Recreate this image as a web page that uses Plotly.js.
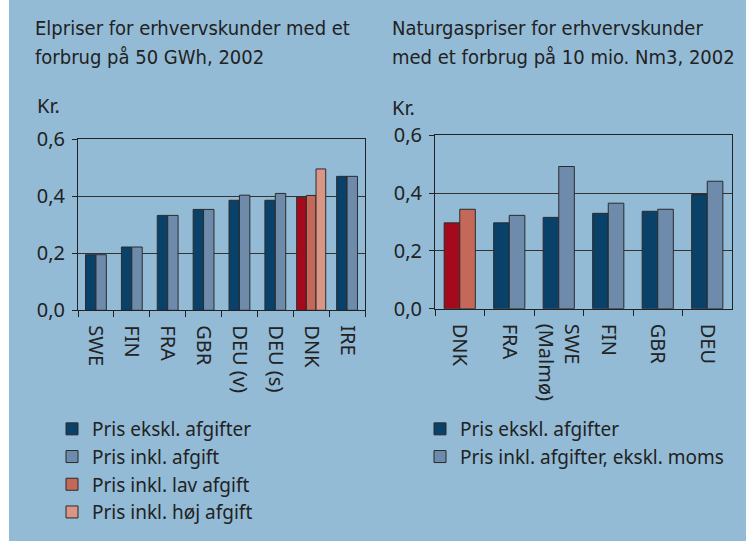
<!DOCTYPE html>
<html><head><meta charset="utf-8">
<script src="https://cdn.plot.ly/plotly-3.0.1.min.js"></script>
<style>html,body{margin:0;padding:0;background:#fff}</style>
</head><body><div id="chart" style="width:746px;height:541px"></div>
<script>
// ---- data ----
const elCategories = ['SWE','FIN','FRA','GBR','DEU (v)','DEU (s)','DNK','IRE'];
const elExcl     = [0.195,0.222,0.333,0.354,0.386,0.386,0.397,0.470];
const elIncl     = [0.195,0.222,0.333,0.354,0.404,0.410,null,0.470];
const elInclLow  = [null,null,null,null,null,null,0.403,null];
const elInclHigh = [null,null,null,null,null,null,0.496,null];

const gasCategories = ['DNK','FRA','SWE<br>(Malmø)','FIN','GBR','DEU'];
const gasExcl = [0.297,0.297,0.316,0.330,0.337,0.395];
const gasIncl = [0.344,0.323,0.492,0.365,0.344,0.441];

const yTickVals = [0,0.2,0.4,0.6];
const highlight = 'DNK';

const elTitleLines  = ['Elpriser for erhvervskunder med et', 'forbrug på 50 GWh, 2002'];
const gasTitleLines = ['Naturgaspriser for erhvervskunder', 'med et forbrug på 10 mio. Nm3, 2002'];

// ---- styles ----
const BG = '#93bbd6', NAVY = '#0a4168', GRAY = '#6e8bac', RED = '#a50a1c',
      SALMON = '#c4695a', LIGHT = '#d99585', INK = '#222222', OUT = '#2b2b2b';
const FONT = 'Noto Sans, Open Sans, sans-serif';

function pick(cats, vals, keep){ return vals.map((v,i)=> keep(cats[i]) ? v : null); }
const isH = c => c === highlight, notH = c => c !== highlight;

function bar(cats, vals, name, color, offset, width, xa, ya, legend, showlegend){
  return {type:'bar', x:cats, y:vals, name:name, xaxis:xa, yaxis:ya,
    offset:offset, width:width, legend:legend, showlegend:showlegend,
    marker:{color:color, line:{color:OUT, width:1}}, hoverinfo:'x+y+name'};
}

const wEl = 0.29, wDnk = 0.27, wGas = 0.315;
const traces = [
  bar(elCategories, pick(elCategories, elExcl, notH), 'Pris ekskl. afgifter', NAVY, -wEl, wEl, 'x','y','legend', true),
  bar(elCategories, pick(elCategories, elIncl, notH), 'Pris inkl. afgift', GRAY, 0, wEl, 'x','y','legend', true),
  bar(elCategories, pick(elCategories, elExcl, isH), 'Pris ekskl. afgifter (DNK)', RED, -1.5*wDnk, wDnk, 'x','y','legend', false),
  bar(elCategories, elInclLow, 'Pris inkl. lav afgift', SALMON, -0.5*wDnk, wDnk, 'x','y','legend', true),
  bar(elCategories, elInclHigh, 'Pris inkl. høj afgift', LIGHT, 0.5*wDnk, wDnk, 'x','y','legend', true),

  bar(gasCategories, pick(gasCategories, gasExcl, notH), 'Pris ekskl. afgifter', NAVY, -wGas, wGas, 'x2','y2','legend2', true),
  bar(gasCategories, pick(gasCategories, gasIncl, notH), 'Pris inkl. afgifter, ekskl. moms', GRAY, 0, wGas, 'x2','y2','legend2', true),
  bar(gasCategories, pick(gasCategories, gasExcl, isH), 'Pris ekskl. afgifter (DNK)', RED, -wGas, wGas, 'x2','y2','legend2', false),
  bar(gasCategories, pick(gasCategories, gasIncl, isH), 'Pris inkl. afgifter (DNK)', SALMON, 0, wGas, 'x2','y2','legend2', false)
];

const W = 746, H = 541;
const px = v => v / W, py = v => 1 - v / H;

function xAxis(domain, cats){
  return {domain:domain, type:'category', categoryorder:'array', categoryarray:cats,
    showline:true, linecolor:INK, linewidth:1, mirror:true, showgrid:false, zeroline:false,
    ticks:'outside', tickson:'boundaries', ticklen:6, tickcolor:INK, tickwidth:1,
    ticklabelstandoff:10,
    tickangle:90, tickfont:{family:FONT, size:20, color:INK}, fixedrange:true};
}
function yAxis(domain, anchor){
  return {domain:domain, anchor:anchor, range:[0,0.6], tickvals:yTickVals, tickformat:'.1f',
    showline:true, linecolor:INK, linewidth:1, mirror:true,
    showgrid:true, gridcolor:'#333333', gridwidth:1, zeroline:false,
    ticks:'outside', ticklen:5, tickcolor:INK, tickwidth:1, ticklabelstandoff:3,
    tickfont:{family:FONT, size:20, color:INK}, fixedrange:true};
}

const legendStyle = (x, y) => ({x:x, y:y, xanchor:'left', yanchor:'top', orientation:'v',
  bgcolor:'rgba(0,0,0,0)', borderwidth:0, traceorder:'normal',
  font:{family:FONT, size:19, color:INK}});

const titleFont = {family:'DejaVu Sans Condensed, Liberation Sans Narrow, sans-serif', size:20, color:INK};
function titleLine(text, x, yc){
  return {xref:'paper', yref:'paper', x:px(x), y:py(yc), xanchor:'left', yanchor:'middle', align:'left',
    showarrow:false, font:titleFont, text:text};
}
const layout = {
  width:W, height:H, margin:{l:0,r:0,t:0,b:0, autoexpand:false},
  paper_bgcolor:BG, plot_bgcolor:'rgba(0,0,0,0)',
  separators:',.', barmode:'overlay', bargap:0,
  xaxis: Object.assign(xAxis([px(78), px(365)], elCategories), {anchor:'y'}),
  yaxis: yAxis([py(310.3), py(139.3)], 'x'),
  xaxis2: Object.assign(xAxis([px(435), px(732)], gasCategories), {anchor:'y2'}),
  yaxis2: yAxis([py(308.7), py(135.3)], 'x2'),
  legend: legendStyle(px(52), py(410)),
  legend2: legendStyle(px(420), py(410)),
  shapes:[{type:'rect', xref:'paper', yref:'paper', x0:0, x1:px(9), y0:0, y1:1,
    fillcolor:'#ffffff', line:{width:0}, layer:'below'}],
  annotations:[
    titleLine(elTitleLines[0], 33, 28), titleLine(elTitleLines[1], 33, 57),
    titleLine(gasTitleLines[0], 390, 28), titleLine(gasTitleLines[1], 390, 57),
    {xref:'paper', yref:'paper', x:px(35), y:py(105), xanchor:'left', yanchor:'middle',
     showarrow:false, font:{family:FONT, size:20, color:INK}, text:'Kr.'},
    {xref:'paper', yref:'paper', x:px(390), y:py(108), xanchor:'left', yanchor:'middle',
     showarrow:false, font:{family:FONT, size:20, color:INK}, text:'Kr.'}
  ]
};

Plotly.newPlot('chart', traces, layout, {displayModeBar:false, staticPlot:true});
</script></body></html>
